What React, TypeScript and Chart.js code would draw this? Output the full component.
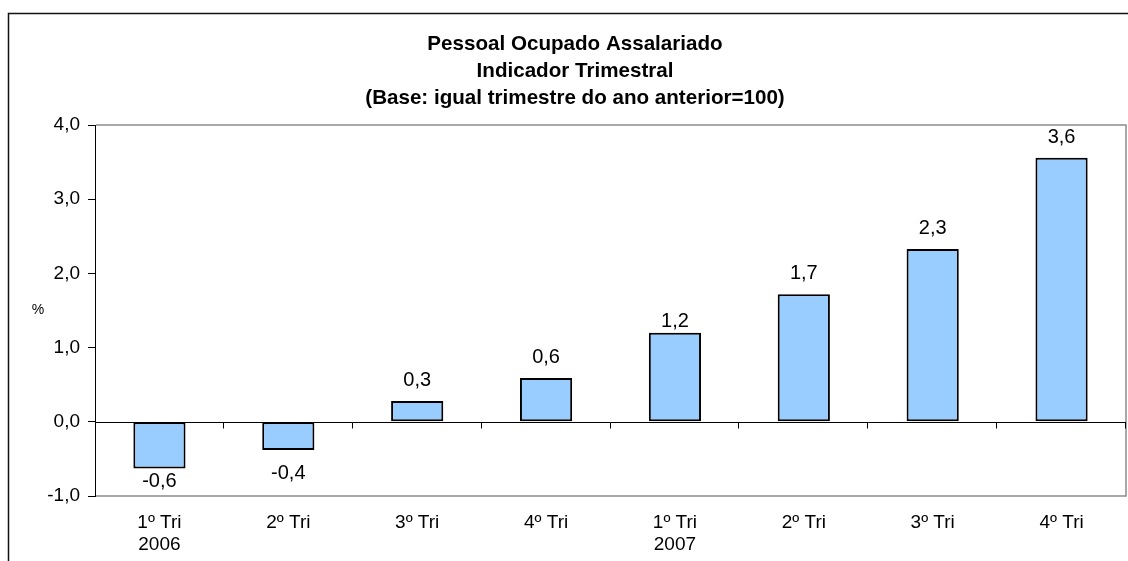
import React, { useEffect, useRef } from "react";
import { Chart, registerables } from "chart.js";

Chart.register(...registerables);

const categories: string[][] = [
  ["1º Tri", "2006"],
  ["2º Tri"],
  ["3º Tri"],
  ["4º Tri"],
  ["1º Tri", "2007"],
  ["2º Tri"],
  ["3º Tri"],
  ["4º Tri"],
];
const values: number[] = [-0.63, -0.38, 0.28, 0.59, 1.2, 1.72, 2.33, 3.56];
const yTicks: number[] = [-1, 0, 1, 2, 3, 4];
const titleLines: string[] = [
  "Pessoal Ocupado Assalariado",
  "Indicador Trimestral",
  "(Base: igual trimestre do ano anterior=100)",
];
const yUnit = "%";

const FONT = "'Liberation Sans', Arial, Helvetica, sans-serif";
const fmt = (v: number) => v.toFixed(1).replace(".", ",");

const W = 1128;
const H = 561;

const labelNudge: Record<number, number> = { 4: 9 };

const decor = {
  id: "decor",
  beforeDatasetsDraw(chart: any) {
    const { ctx, chartArea: a, scales } = chart;
    const y0 = Math.round(scales.y.getPixelForValue(0)) + 0.5;
    ctx.save();
    ctx.strokeStyle = "#8c8c8c";
    ctx.lineWidth = 1.5;
    ctx.beginPath();
    ctx.moveTo(a.left + 1, a.top);
    ctx.lineTo(a.right, a.top);
    ctx.lineTo(a.right, a.bottom);
    ctx.lineTo(a.left + 1, a.bottom);
    ctx.stroke();

    ctx.strokeStyle = "#000";
    ctx.lineWidth = 1;
    ctx.beginPath();
    ctx.moveTo(a.left, y0);
    ctx.lineTo(a.right, y0);
    const n = categories.length;
    const w = (a.right - a.left) / n;
    for (let i = 1; i <= n; i++) {
      const x = Math.round(a.left + i * w) - 0.5;
      ctx.moveTo(x, y0);
      ctx.lineTo(x, y0 + 6);
    }
    ctx.stroke();
    ctx.restore();
  },
  afterDatasetsDraw(chart: any) {
    const { ctx, chartArea: a } = chart;
    const meta = chart.getDatasetMeta(0);
    const size = 20;
    const cap = size * 0.716;
    ctx.save();
    ctx.font = `${size}px ${FONT}`;
    ctx.fillStyle = "#000";
    ctx.textAlign = "center";
    ctx.textBaseline = "alphabetic";
    meta.data.forEach((bar: any, i: number) => {
      const v = values[i];
      const { x, y } = bar.getProps(["x", "y"], true);
      let by: number;
      if (v >= 0) by = y - 15 + (labelNudge[i] || 0);
      else by = Math.min(y + 15 + cap, a.bottom - 9);
      ctx.fillText(fmt(v), x, by);
    });
    ctx.restore();
  },
  afterDraw(chart: any) {
    const { ctx, chartArea: a } = chart;
    ctx.save();
    ctx.fillStyle = "#000";
    ctx.textAlign = "center";
    ctx.textBaseline = "alphabetic";
    ctx.font = `bold 20.6px ${FONT}`;
    const baselines = [49.5, 76.5, 103.5];
    titleLines.forEach((t, i) => ctx.fillText(t, 575, baselines[i]));

    ctx.font = `14px ${FONT}`;
    ctx.textBaseline = "middle";
    ctx.fillText(yUnit, 38, (a.top + a.bottom) / 2);

    ctx.strokeStyle = "#111";
    ctx.lineWidth = 1.5;
    ctx.beginPath();
    ctx.moveTo(8.5, H);
    ctx.lineTo(8.5, 13.5);
    ctx.lineTo(W, 13.5);
    ctx.stroke();
    ctx.restore();
  },
};

export default function App() {
  const ref = useRef<HTMLCanvasElement | null>(null);

  useEffect(() => {
    if (!ref.current) return;
    const chart = new Chart(ref.current, {
      type: "bar",
      data: {
        labels: categories,
        datasets: [
          {
            data: values,
            backgroundColor: "#99CCFF",
            borderColor: "#000",
            borderWidth: 2,
            borderSkipped: false,
            barPercentage: 0.405,
            categoryPercentage: 1,
          },
        ],
      },
      options: {
        animation: false,
        responsive: false,
        devicePixelRatio: 1,
        layout: { padding: { top: 125, right: 2, left: 0, bottom: 0 } },
        plugins: {
          legend: { display: false },
          tooltip: { enabled: false },
          title: { display: false },
        },
        scales: {
          x: {
            grid: { display: false, drawTicks: false },
            border: { display: false },
            ticks: {
              font: { family: FONT, size: 19, lineHeight: 1.2 },
              color: "#000",
              padding: 15,
              maxRotation: 0,
              autoSkip: false,
            },
            afterFit: (s: any) => {
              s.height = 65;
            },
          },
          y: {
            min: -1,
            max: 4,
            afterBuildTicks: (s: any) => {
              s.ticks = yTicks.map((v) => ({ value: v }));
            },
            ticks: {
              callback: (v: any) => fmt(Number(v)),
              font: { family: FONT, size: 19 },
              color: "#000",
              padding: 8,
            },
            grid: { drawOnChartArea: false, color: "#000", tickLength: 7, lineWidth: 1 },
            border: { color: "#000", width: 1 },
            afterFit: (s: any) => {
              s.width = 95;
            },
          },
        },
      } as any,
      plugins: [decor],
    });
    return () => chart.destroy();
  }, []);

  return (
    <div style={{ position: "fixed", left: 0, top: 0, width: W, height: H, background: "#fff" }}>
      <canvas ref={ref} width={W} height={H} style={{ display: "block", width: W, height: H }} />
    </div>
  );
}
